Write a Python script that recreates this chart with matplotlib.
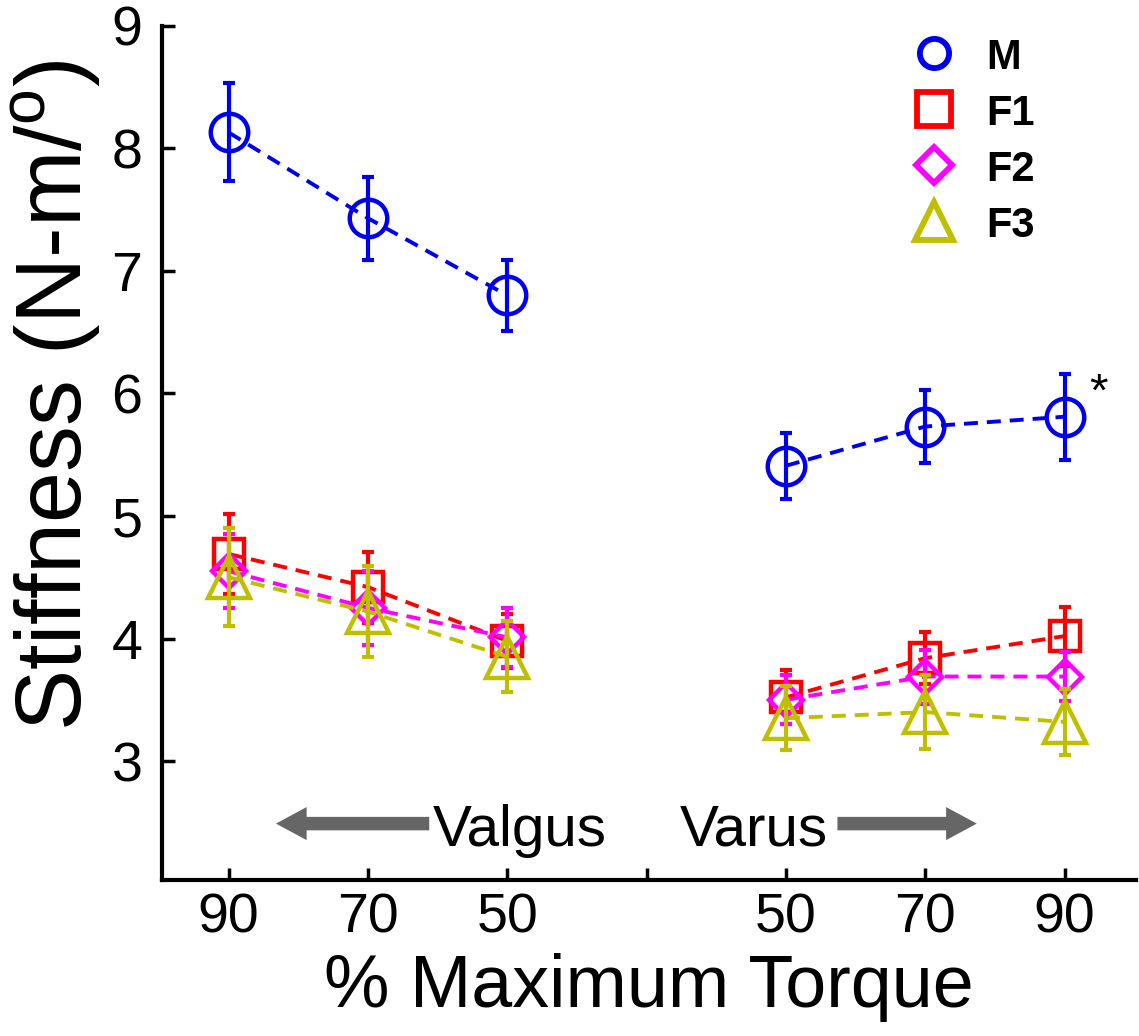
import matplotlib
matplotlib.use("Agg")
import matplotlib.pyplot as plt
from matplotlib.lines import Line2D

plt.rcParams['font.family'] = ['Liberation Sans', 'DejaVu Sans']
plt.rcParams['mathtext.fontset'] = 'custom'
plt.rcParams['mathtext.rm'] = 'Liberation Sans'

# x positions: valgus side 90/70/50, gap, varus side 50/70/90
x_valgus = [1, 2, 3]
x_varus = [5, 6, 7]
tick_pos = [1, 2, 3, 4, 5, 6, 7]
tick_labels = ['90', '70', '50', '', '50', '70', '90']

groups = ['M', 'F1', 'F2', 'F3']
colors = {'M': '#0000ee', 'F1': '#ff0000', 'F2': '#ff00ff', 'F3': '#bfbf00'}
markers = {'M': 'o', 'F1': 's', 'F2': 'D', 'F3': '^'}
msizes = {'M': 27, 'F1': 22, 'F2': 17, 'F3': 30}
leg_sizes = {'M': 21, 'F1': 24, 'F2': 18, 'F3': 28}

valgus_mean = {
    'M':  [8.13, 7.43, 6.80],
    'F1': [4.69, 4.42, 3.98],
    'F2': [4.55, 4.25, 4.01],
    'F3': [4.50, 4.22, 3.85],
}
valgus_err = {
    'M':  [0.40, 0.34, 0.29],
    'F1': [0.33, 0.29, 0.22],
    'F2': [0.30, 0.30, 0.24],
    'F3': [0.40, 0.37, 0.29],
}
varus_mean = {
    'M':  [5.41, 5.73, 5.81],
    'F1': [3.52, 3.84, 4.02],
    'F2': [3.50, 3.69, 3.69],
    'F3': [3.35, 3.40, 3.32],
}
varus_err = {
    'M':  [0.27, 0.30, 0.35],
    'F1': [0.22, 0.21, 0.24],
    'F2': [0.20, 0.22, 0.20],
    'F3': [0.26, 0.30, 0.27],
}

fig = plt.figure(figsize=(11.39, 10.36), dpi=100)
ax = fig.add_axes([0.142, 0.1506, 0.855, 0.8245])

handles = []
for g in groups:
    c = colors[g]
    for xs, ys, es in [(x_valgus, valgus_mean[g], valgus_err[g]),
                       (x_varus, varus_mean[g], varus_err[g])]:
        ax.errorbar(xs, ys, yerr=es, fmt='none', ecolor=c, elinewidth=3,
                    capsize=4, capthick=3)
        ax.plot(xs, ys, '--', color=c, lw=2.8, dashes=(3.6, 2.3))
        ax.plot(xs, ys, linestyle='none', marker=markers[g], ms=msizes[g],
                mfc='none', mec=c, mew=3.2)
    handles.append(Line2D([], [], linestyle='none', marker=markers[g],
                          ms=leg_sizes[g], mfc='none', mec=c, mew=4.2, label=g))

leg = ax.legend(handles=handles, loc='upper left', bbox_to_anchor=(0.772, 0.988),
                frameon=False, prop={'weight': 'bold', 'size': 30},
                handlelength=1.0, handleheight=1.0, handletextpad=0.75,
                labelspacing=0.34, borderaxespad=0, borderpad=0)

ax.text(7.18, 6.0, '*', fontsize=34, ha='left', va='center')

# direction arrows and labels
ax.arrow(2.44, 2.49, -0.88, 0, width=0.11, head_width=0.27, head_length=0.22,
         length_includes_head=False, color='#666666', lw=0)
ax.arrow(5.37, 2.49, 0.78, 0, width=0.11, head_width=0.27, head_length=0.22,
         length_includes_head=False, color='#666666', lw=0)
ax.text(3.09, 2.31, 'Valgus', fontsize=42, ha='center', va='baseline')
ax.text(4.77, 2.31, 'Varus', fontsize=42, ha='center', va='baseline')

ax.set_xlim(0.52, 7.51)
ax.set_ylim(2.03, 9)
ax.set_xticks(tick_pos)
ax.set_xticklabels(tick_labels)
ax.set_yticks([3, 4, 5, 6, 7, 8, 9])
ax.tick_params(direction='in', length=9, width=2.5, labelsize=40)
ax.tick_params(axis='x', pad=9)
ax.tick_params(axis='y', pad=14)
for side in ['top', 'right']:
    ax.spines[side].set_visible(False)
for side in ['left', 'bottom']:
    ax.spines[side].set_linewidth(3)

ax.set_xlabel('% Maximum Torque', fontsize=53, labelpad=6)
ax.set_ylabel('Stiffness (N-m/$^{\\mathrm{o}}$)', fontsize=66)
ax.yaxis.set_label_coords(-0.06, 0.568)

fig.savefig('out.png', dpi=100)
